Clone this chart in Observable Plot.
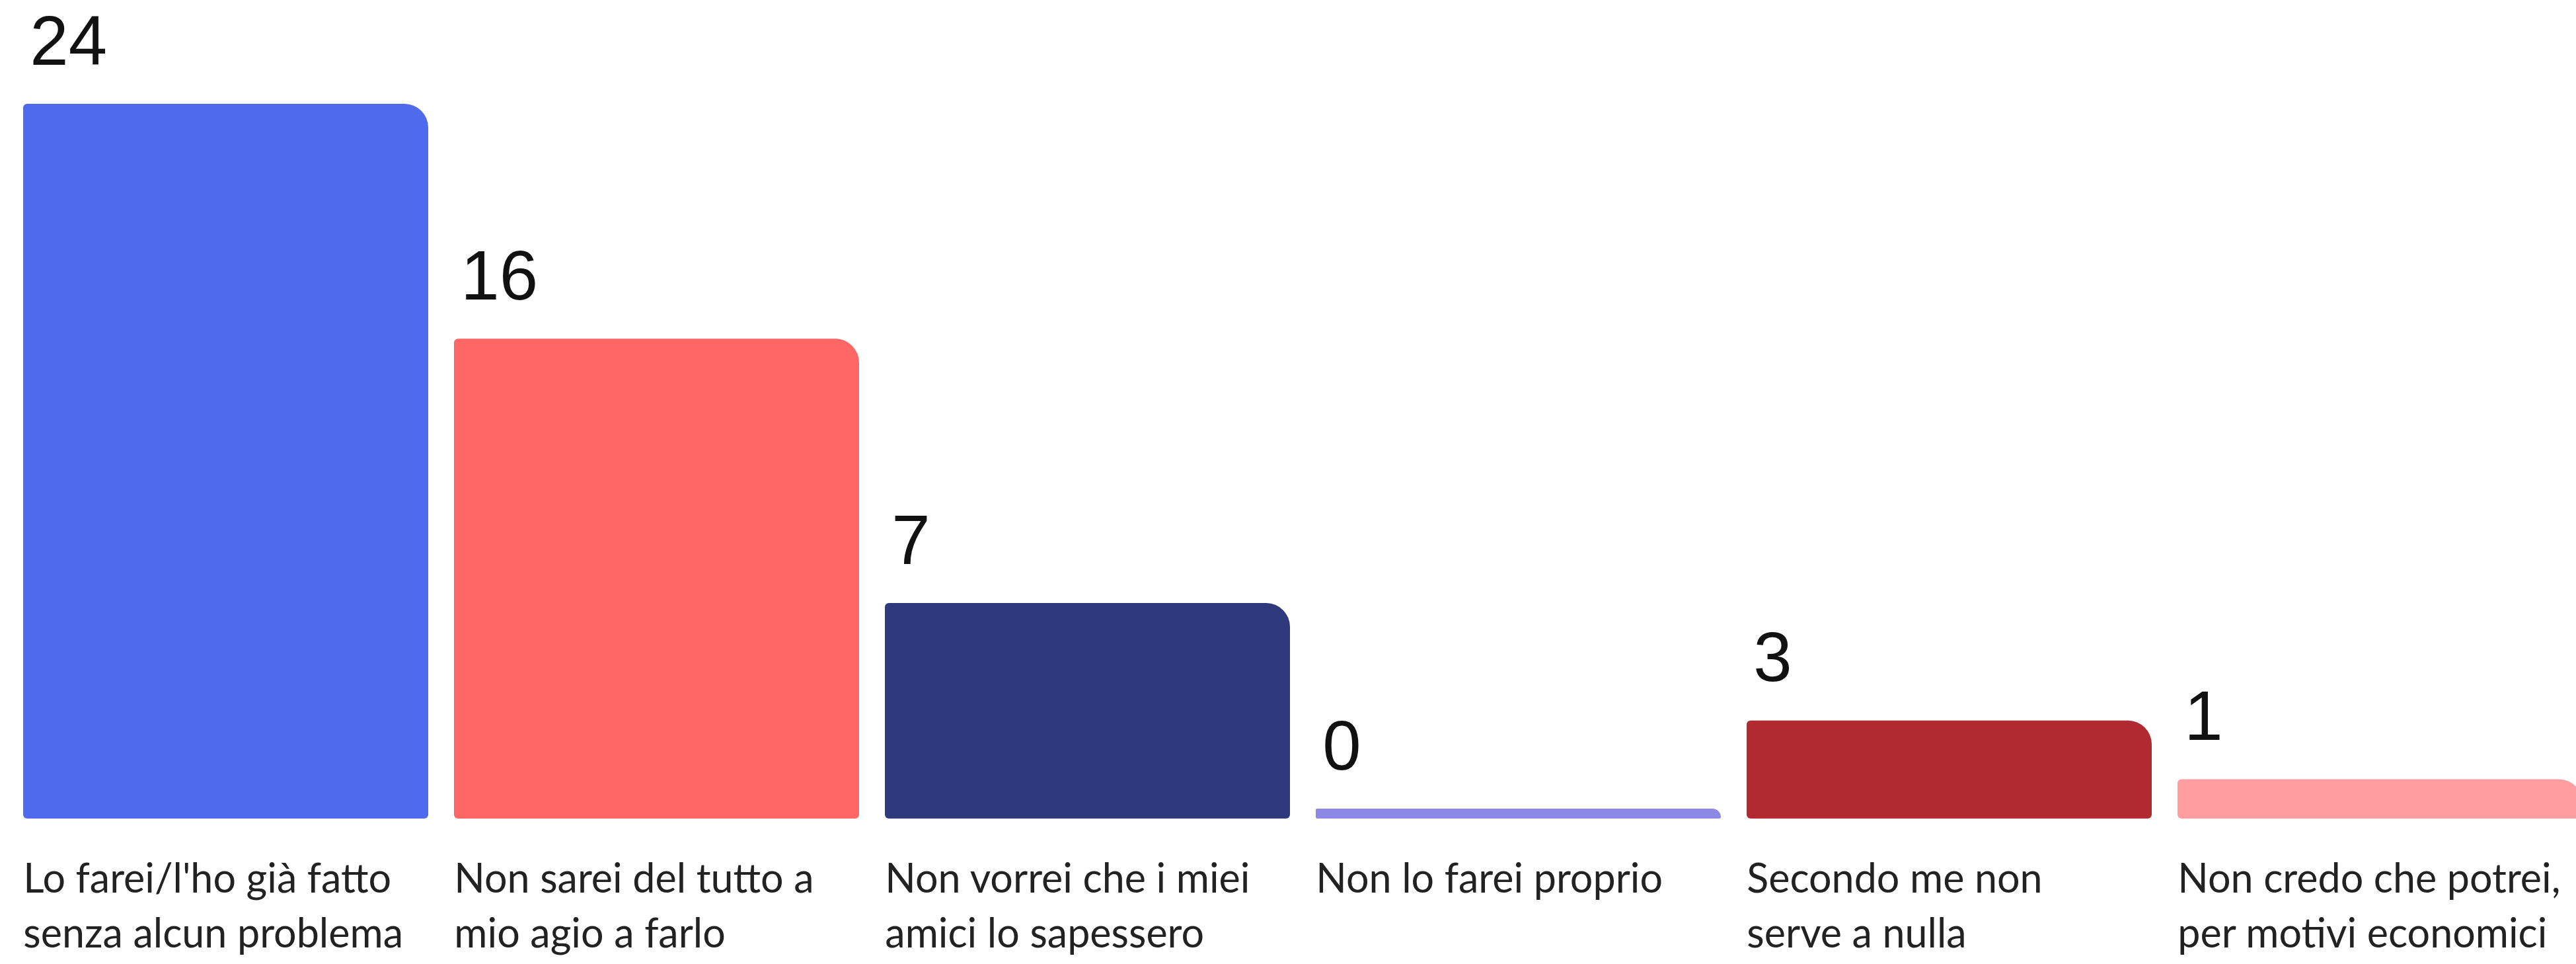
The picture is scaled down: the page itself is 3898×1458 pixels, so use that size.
<!DOCTYPE html>
<html>
<head>
<meta charset="utf-8">
<script src="https://cdn.jsdelivr.net/npm/d3@7"></script>
<script src="https://cdn.jsdelivr.net/npm/@observablehq/plot@0.6"></script>
<style>
  html, body { margin: 0; padding: 0; background: #ffffff; }
  #chart svg { display: block; }
</style>
</head>
<body>
<div id="chart"></div>
<script>
const categories = [
  "Lo farei/l'ho già fatto senza alcun problema",
  "Non sarei del tutto a mio agio a farlo",
  "Non vorrei che i miei amici lo sapessero",
  "Non lo farei proprio",
  "Secondo me non serve a nulla",
  "Non credo che potrei, per motivi economici"
];
const tickLabels = [
  "Lo farei/l'ho già fatto\nsenza alcun problema",
  "Non sarei del tutto a\nmio agio a farlo",
  "Non vorrei che i miei\namici lo sapessero",
  "Non lo farei proprio",
  "Secondo me non\nserve a nulla",
  "Non credo che potrei,\nper motivi economici"
];
const values = [24, 16, 7, 0, 3, 1];
const colors = ["#4F6AEC", "#FF6666", "#2E3A7B", "#8B89E3", "#B02A30", "#FF9EA0"];

const data = categories.map((c, i) => ({category: c, label: tickLabels[i], value: values[i]}));

const W = 3898, H = 1458;
const xRange = [35, 3911];
const pad = 0.06;
const bw = d3.scaleBand().domain(categories).range(xRange).paddingInner(pad).paddingOuter(0).align(0).bandwidth();

const chart = Plot.plot({
  width: W,
  height: H,
  marginTop: 157,
  marginBottom: 235,
  marginLeft: 35,
  marginRight: 0,
  style: {background: "#ffffff"},
  x: {domain: categories, range: xRange, paddingInner: pad, paddingOuter: 0, align: 0, axis: null},
  y: {domain: [0, 24], axis: null},
  color: {domain: categories, range: colors},
  marks: [
    Plot.barY(data, {
      x: "category", y: "value", fill: "category",
      insetBottom: -15,
      rx1y1: 6, rx2y1: 36, rx1y2: 6, rx2y2: 6
    }),
    Plot.text(data, {
      x: "category", y: "value", text: d => String(d.value),
      textAnchor: "start", lineAnchor: "bottom",
      dx: -bw / 2 + 10, dy: -60,
      fontSize: 105, fontFamily: "Liberation Sans, Arial, sans-serif", fill: "#111111"
    }),
    Plot.text(data, {
      x: "category", text: "label",
      frameAnchor: "bottom", lineAnchor: "top",
      textAnchor: "start", dx: -bw / 2, dy: 68,
      fontSize: 61, lineHeight: 1.36,
      fontFamily: "Lato, sans-serif", fill: "#222222"
    })
  ]
});
document.getElementById("chart").appendChild(chart);
</script>
</body>
</html>
